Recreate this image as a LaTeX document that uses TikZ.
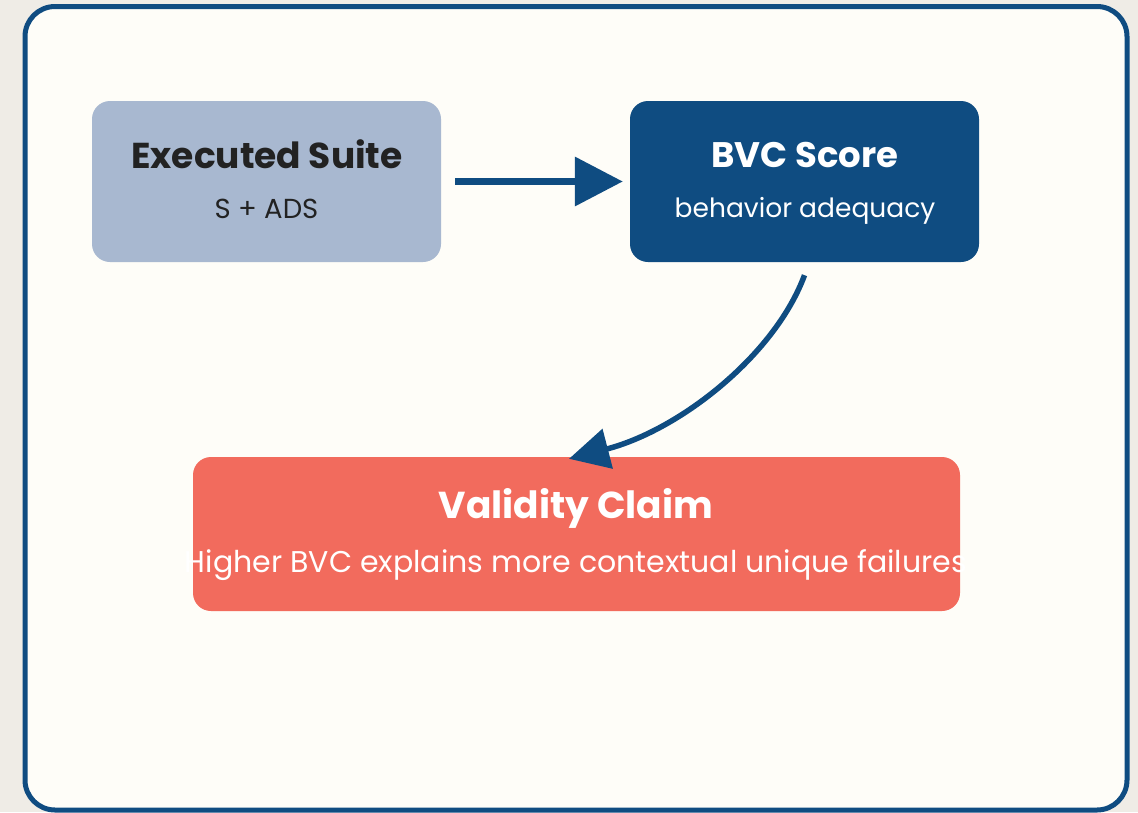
\documentclass[tikz,border=0pt]{standalone}
\usepackage{fontspec}
\setmainfont{Poppins}
\usetikzlibrary{arrows.meta}

\definecolor{pagebg}{HTML}{EFECE6}
\definecolor{cardbg}{HTML}{FEFDF8}
\definecolor{navy}{HTML}{0F4C81}
\definecolor{steel}{HTML}{A8B8D0}
\definecolor{coral}{HTML}{F26B5D}
\definecolor{ink}{HTML}{222222}

\tikzset{
  box/.style={rectangle, rounded corners=18pt, draw=none, inner sep=0pt},
  title/.style={anchor=base, inner sep=0pt, font=\fontsize{#1}{40}\selectfont\bfseries},
  subtitle/.style={anchor=base, inner sep=0pt, font=\fontsize{#1}{34}\selectfont},
  flow/.style={draw=navy, line width=7pt, -{Triangle[length=48pt,width=48pt]}},
  curvedflow/.style={draw=navy, line width=5.5pt, -{Triangle[length=40pt,width=40pt]}},
}

\begin{document}
\begin{tikzpicture}[x=1pt, y=-1pt]
  % page and card
  \fill[pagebg] (0,0) rectangle (1138,812);
  \useasboundingbox (0,0) rectangle (1138,812);
  \draw[navy, fill=cardbg, line width=5pt, rounded corners=30pt] (25,6.5) rectangle (1127,810);

  % boxes
  \node[box, fill=steel, minimum width=349pt, minimum height=161pt] (suite) at (266.5,181.5) {};
  \node[box, fill=navy,  minimum width=349pt, minimum height=161pt] (score) at (804.5,181.5) {};
  \node[box, fill=coral, minimum width=767pt, minimum height=154pt] (claim) at (576.5,534) {};

  % texts
  \node[title=36, text=ink] (suiteT) at (267,168) {Executed Suite};
  \node[subtitle=27.5, text=ink] (suiteS) at (266.5,218) {S + ADS};
  \node[title=35.5, text=white] (scoreT) at (805,167) {BVC Score};
  \node[subtitle=26.5, text=white] (scoreS) at (805,217) {behavior adequacy};
  \node[title=37.5, text=white] (claimT) at (576,518) {Validity Claim};
  \node[subtitle=30, text=white] (claimS) at (576,572) {Higher BVC explains more contextual unique failures};

  % connectors
  \draw[flow, shorten <=14pt, shorten >=7pt] (suite.east) -- (score.west);
  \draw[curvedflow] ([yshift=-13pt]score.south) .. controls (775,355) and (680,430) .. ([xshift=-7.5pt,yshift=-2pt]claim.north);
\end{tikzpicture}
\end{document}
